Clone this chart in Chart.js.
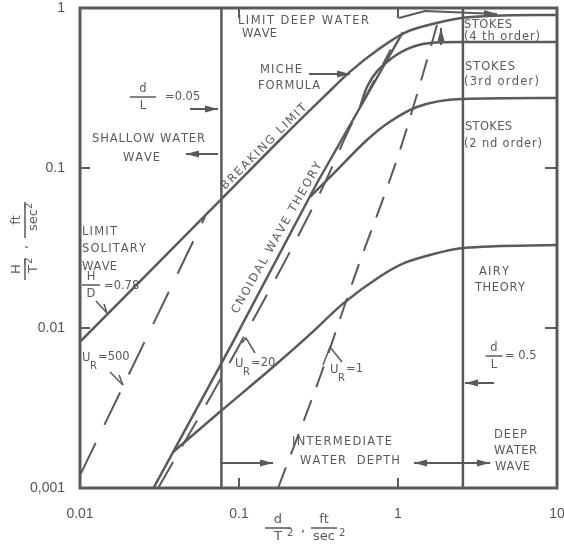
<!DOCTYPE html>
<html>
<head>
<meta charset="utf-8">
<script src="https://cdn.jsdelivr.net/npm/chart.js@4.4.0/dist/chart.umd.min.js"></script>
<style>
  html, body { margin: 0; padding: 0; background: #fff; }
  canvas { display: block; }
</style>
</head>
<body>
<canvas id="c" width="564" height="553"></canvas>
<script>
// axes: d/T^2 and H/T^2, ft/sec^2, log-log
const xTicks = [0.01, 0.1, 1, 10];
const yTicks = [0.001, 0.01, 0.1, 1];
const xTickLabels = ['0.01', '0.1', '1', '10'];
const yTickLabels = ['0,001', '0.01', '0.1', '1'];

// d/L = 0.05 and d/L = 0.5
const shallowLimit = 0.0775;
const deepLimit = 2.56;

// breaking limit (H/D = 0.78 -> Miche formula)
const breakingX = [0.01, 0.08, 0.186, 0.35, 0.5, 0.75, 1.1, 1.7, 2.5, 4, 10];
const breakingY = [0.0082, 0.066, 0.154, 0.285, 0.40, 0.55, 0.70, 0.80, 0.865, 0.895, 0.905];

// cnoidal boundary
const cnoidalX = [0.029, 0.0917, 0.3095, 1.075];
const cnoidalY = [0.001, 0.00818, 0.0806, 0.708];

// stokes 4th / 3rd
const stokes4X = [0.577, 0.638, 0.853, 1.59, 2.5, 10];
const stokes4Y = [0.24, 0.321, 0.46, 0.604, 0.613, 0.613];

// stokes 3rd / 2nd
const stokes3X = [0.28, 0.40, 0.638, 0.865, 1.316, 2.5, 10];
const stokes3Y = [0.0659, 0.094, 0.1496, 0.191, 0.2406, 0.27, 0.274];

// stokes 2nd / airy
const stokes2X = [0.0385, 0.0782, 0.1636, 0.292, 0.451, 0.771, 1.1, 1.59, 2.56, 10];
const stokes2Y = [0.00168, 0.00307, 0.0057, 0.0095, 0.0142, 0.021, 0.0255, 0.0286, 0.0316, 0.033];

// Ursell number lines
const ur500X = [0.01, 0.0611];
const ur500Y = [0.0012, 0.0494];
const ur20X = [0.031, 0.0878, 0.323, 0.5, 0.9];
const ur20Y = [0.001, 0.00613, 0.0698, 0.18, 0.55];
const ur1X = [0.176, 0.323, 0.537, 1.015, 1.479, 1.76];
const ur1Y = [0.001, 0.00494, 0.0214, 0.124, 0.428, 0.783];

const INK = '#5a5a5a';
const pts = (xs, ys) => xs.map((x, i) => ({ x, y: ys[i] }));

function line(data, opts) {
  return Object.assign({
    data, showLine: true, pointRadius: 0, borderColor: INK,
    borderWidth: 2.5, fill: false, tension: 0
  }, opts || {});
}
const smooth = { cubicInterpolationMode: 'monotone' };

// letter-spaced text between x1 and x2
function spaced(ctx, text, x1, x2, y) {
  const chars = [...text];
  const w = chars.map(c => ctx.measureText(c).width);
  const nat = w.reduce((a, b) => a + b, 0);
  const gap = chars.length > 1 ? (x2 - x1 - nat) / (chars.length - 1) : 0;
  let x = x1;
  chars.forEach((c, i) => { ctx.fillText(c, x, y); x += w[i] + gap; });
}

function head(ctx, x1, y1, x2, y2) {
  const a = Math.atan2(y2 - y1, x2 - x1), L = 13, H = 3.5;
  ctx.beginPath();
  ctx.moveTo(x2, y2);
  ctx.lineTo(x2 - L * Math.cos(a) + H * Math.sin(a), y2 - L * Math.sin(a) - H * Math.cos(a));
  ctx.lineTo(x2 - L * Math.cos(a) - H * Math.sin(a), y2 - L * Math.sin(a) + H * Math.cos(a));
  ctx.closePath();
  ctx.fill();
}

function poly(ctx, p) {
  ctx.beginPath();
  ctx.moveTo(p[0][0], p[0][1]);
  for (let i = 1; i < p.length; i++) ctx.lineTo(p[i][0], p[i][1]);
  ctx.stroke();
}

function arrow(ctx, p, both) {
  poly(ctx, p);
  const n = p.length;
  head(ctx, p[n - 2][0], p[n - 2][1], p[n - 1][0], p[n - 1][1]);
  if (both) head(ctx, p[1][0], p[1][1], p[0][0], p[0][1]);
}

function frac(ctx, num, den, cx, by, bw) {
  ctx.textAlign = 'center';
  ctx.fillText(num, cx, by - 8);
  ctx.fillText(den, cx, by + 9);
  ctx.beginPath();
  ctx.moveTo(cx - bw / 2, by);
  ctx.lineTo(cx + bw / 2, by);
  ctx.stroke();
  ctx.textAlign = 'left';
}

const decor = {
  id: 'decor',
  afterDatasetsDraw(chart) {
    const { ctx, chartArea: a, scales: { x, y } } = chart;
    ctx.save();
    ctx.strokeStyle = INK;
    ctx.fillStyle = INK;

    // frame
    ctx.lineWidth = 3;
    ctx.strokeRect(a.left, a.top, a.right - a.left, a.bottom - a.top);

    // inward decade ticks
    ctx.lineWidth = 2;
    xTicks.slice(1, -1).forEach(v => {
      const px = x.getPixelForValue(v);
      poly(ctx, [[px, a.bottom], [px, a.bottom - 10]]);
      poly(ctx, [[px, a.top], [px, a.top + 10]]);
    });
    yTicks.slice(1, -1).forEach(v => {
      const py = y.getPixelForValue(v);
      poly(ctx, [[a.left, py], [a.left + 10, py]]);
      poly(ctx, [[a.right, py], [a.right - 12, py]]);
    });

    // region labels
    ctx.font = '11.5px "DejaVu Sans"';
    ctx.textBaseline = 'middle';
    ctx.textAlign = 'left';
    const labels = [
      ['LIMIT DEEP WATER', 238, 369, 21], ['WAVE', 242, 277, 34],
      ['MICHE', 260, 302, 70], ['FORMULA', 258, 320, 86],
      ['SHALLOW WATER', 92, 205, 139], ['WAVE', 123, 160, 158],
      ['LIMIT', 82, 117, 232], ['SOLITARY', 82, 146, 249], ['WAVE', 82, 117, 267],
      ['STOKES', 464, 512, 25], ['(4 th order)', 464, 540, 37],
      ['STOKES', 465, 515, 67], ['(3rd order)', 464, 539, 82],
      ['STOKES', 465, 512, 127], ['(2 nd order)', 464, 542, 144],
      ['AIRY', 479, 509, 272], ['THEORY', 475, 525, 288],
      ['DEEP', 494, 527, 435], ['WATER', 494, 537, 451], ['WAVE', 495, 530, 467],
      ['INTERMEDIATE', 292, 392, 442], ['WATER  DEPTH', 300, 400, 461]
    ];
    labels.forEach(([t, x1, x2, yy]) => spaced(ctx, t, x1, x2, yy));

    // rotated labels along the curves
    ctx.save();
    ctx.translate(264, 147);
    ctx.rotate(-Math.PI / 4);
    spaced(ctx, 'BREAKING LIMIT', -58, 58, 0);
    ctx.restore();
    ctx.save();
    ctx.translate(277, 238);
    ctx.rotate(-60.5 * Math.PI / 180);
    spaced(ctx, 'CNOIDAL WAVE THEORY', -86, 86, 0);
    ctx.restore();

    // fractions d/L, H/D
    ctx.lineWidth = 1.5;
    frac(ctx, 'd', 'L', 143, 97, 26);
    ctx.fillText('=0.05', 165, 97);
    frac(ctx, 'H', 'D', 91, 285, 18);
    ctx.fillText('=0.78', 104, 286);
    frac(ctx, 'd', 'L', 494, 356, 17);
    ctx.fillText('= 0.5', 505, 356);

    // Ursell labels
    const ur = (ux, uy, val) => {
      ctx.font = '11.5px "DejaVu Sans"';
      ctx.fillText('U', ux, uy);
      ctx.fillText('=' + val, ux + 16, uy - 1);
      ctx.font = '10px "DejaVu Sans"';
      ctx.fillText('R', ux + 8, uy + 8);
    };
    ur(82, 358, '500');
    ur(235, 364, '20');
    ur(330, 370, '1');

    // pointers and arrows
    ctx.lineWidth = 2;
    arrow(ctx, [[309, 74], [350, 74]]);
    arrow(ctx, [[190, 109], [218, 109]]);
    arrow(ctx, [[218, 154], [186, 154]]);
    arrow(ctx, [[494, 383], [465, 383]]);
    arrow(ctx, [[414, 463], [490, 463]], true);
    arrow(ctx, [[222, 463], [273, 463]]);
    arrow(ctx, [[399, 18], [425, 11], [497, 14]]);
    arrow(ctx, [[441, 45], [441, 28]]);
    ctx.lineWidth = 1.5;
    poly(ctx, [[96, 301], [107, 313]]);
    poly(ctx, [[104, 304], [107, 313]]);
    poly(ctx, [[110, 372], [123, 385]]);
    poly(ctx, [[119, 375], [123, 385]]);
    poly(ctx, [[242, 343], [246, 338], [255, 353]]);
    poly(ctx, [[323, 365], [330, 347], [342, 362]]);

    // axis titles
    ctx.font = '13px "DejaVu Sans"';
    ctx.lineWidth = 1.5;
    frac(ctx, 'd', 'T', 278, 528, 26);
    frac(ctx, 'ft', 'sec', 324, 528, 26);
    ctx.font = '10px "DejaVu Sans"';
    ctx.fillText('2', 287, 533);
    ctx.fillText('2', 339, 533);
    ctx.font = '13px "DejaVu Sans"';
    ctx.fillText(',', 301, 529);

    ctx.save();
    ctx.translate(25, 247);
    ctx.rotate(-Math.PI / 2);
    frac(ctx, 'H', 'T', -22, 0, 22);
    frac(ctx, 'ft', 'sec', 27, 0, 36);
    ctx.fillText(',', -2, -1);
    ctx.font = '10px "DejaVu Sans"';
    ctx.fillText('2', -17, 4);
    ctx.fillText('2', 38, 4);
    ctx.restore();

    ctx.restore();
  }
};

new Chart(document.getElementById('c'), {
  type: 'scatter',
  data: {
    datasets: [
      line(pts([shallowLimit, shallowLimit], [0.001, 1])),
      line(pts([deepLimit, deepLimit], [0.001, 1])),
      line(pts(breakingX, breakingY), smooth),
      line(pts(cnoidalX, cnoidalY)),
      line(pts(stokes4X, stokes4Y), smooth),
      line(pts(stokes3X, stokes3Y), smooth),
      line(pts(stokes2X, stokes2Y), smooth),
      line(pts(ur500X, ur500Y), { borderWidth: 2, borderDash: [36, 20] }),
      line(pts(ur20X, ur20Y), Object.assign({ borderWidth: 2, borderDash: [30, 18] }, smooth)),
      line(pts(ur1X, ur1Y), Object.assign({ borderWidth: 2, borderDash: [22, 14] }, smooth))
    ]
  },
  options: {
    responsive: false,
    animation: false,
    devicePixelRatio: 1,
    layout: { padding: { top: 8, right: 7, left: 0, bottom: 0 } },
    plugins: { legend: { display: false }, tooltip: { enabled: false } },
    scales: {
      x: {
        type: 'logarithmic', min: 0.01, max: 10,
        afterBuildTicks: s => { s.ticks = xTicks.map(v => ({ value: v })); },
        afterFit: s => { s.height = 65; s.paddingLeft = 0; s.paddingRight = 0; },
        grid: { display: false },
        border: { display: false },
        ticks: {
          autoSkip: false, maxRotation: 0, padding: 10, color: '#555',
          font: { family: 'Liberation Sans', size: 14 },
          callback: (v, i) => xTickLabels[i]
        }
      },
      y: {
        type: 'logarithmic', min: 0.001, max: 1,
        afterBuildTicks: s => { s.ticks = yTicks.map(v => ({ value: v })); },
        afterFit: s => { s.width = 80; s.paddingTop = 0; s.paddingBottom = 0; },
        grid: { display: false },
        border: { display: false },
        ticks: {
          autoSkip: false, padding: 7, color: '#555',
          font: { family: 'Liberation Sans', size: 14 },
          callback: (v, i) => yTickLabels[i]
        }
      }
    }
  },
  plugins: [decor]
});
</script>
</body>
</html>
